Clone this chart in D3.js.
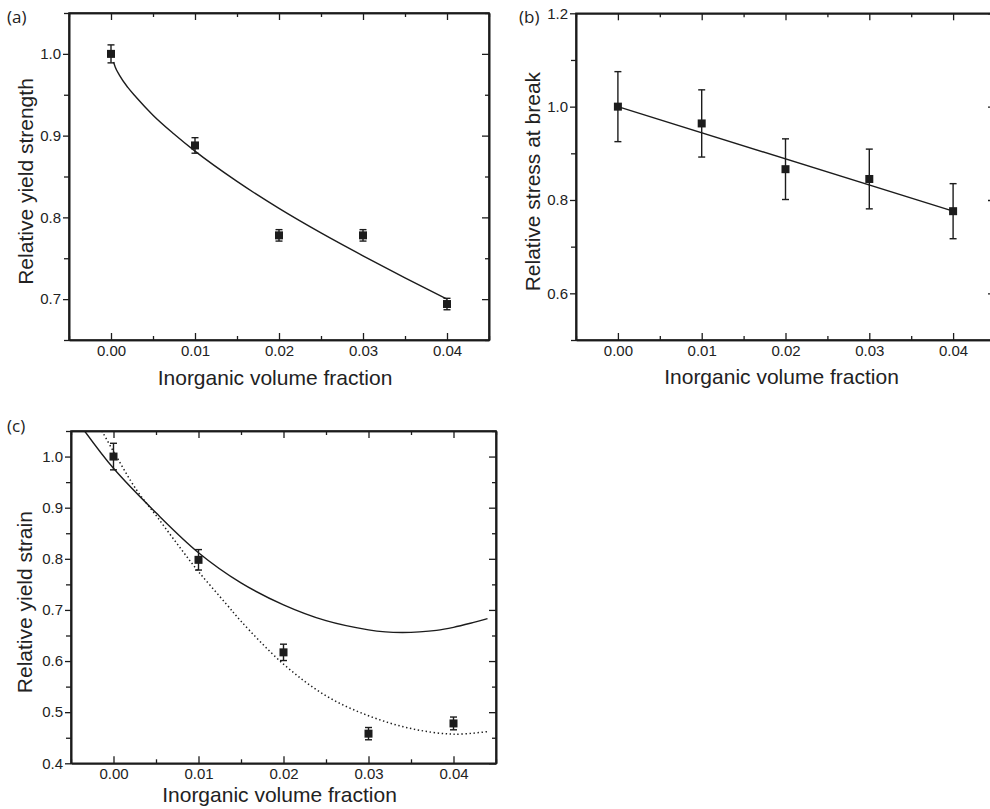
<!DOCTYPE html>
<html>
<head>
<meta charset="utf-8">
<script src="https://cdn.jsdelivr.net/npm/d3@7"></script>
<style>
  html, body { margin: 0; padding: 0; background: #ffffff; overflow: hidden; }
  svg { display: block; }
</style>
</head>
<body>
<svg id="chart" width="990" height="809"></svg>
<script>
// ---------------- DATA ----------------
const volumeFraction = [0.00, 0.01, 0.02, 0.03, 0.04];
const xTickValues = [0.00, 0.01, 0.02, 0.03, 0.04];
const xTickLabels = ["0.00", "0.01", "0.02", "0.03", "0.04"];

// (a) relative yield strength
const strengthValues = [1.000, 0.888, 0.778, 0.778, 0.694];
const strengthErrors = [0.011, 0.0095, 0.007, 0.007, 0.007];
const strengthFitX = [0.0003, 0.0005, 0.001, 0.002, 0.003, 0.005, 0.0075, 0.010, 0.015, 0.020, 0.025, 0.030, 0.035, 0.040];
const strengthFitY = [0.990, 0.984, 0.974, 0.959, 0.947, 0.925, 0.902, 0.881, 0.844, 0.811, 0.781, 0.753, 0.726, 0.700];
const strengthTicks = [0.7, 0.8, 0.9, 1.0];
const strengthTickLabels = ["0.7", "0.8", "0.9", "1.0"];

// (b) relative stress at break
const stressValues = [1.000, 0.964, 0.866, 0.845, 0.776];
const stressErrors = [0.075, 0.072, 0.065, 0.064, 0.059];
const stressFitX = [0.00, 0.04];
const stressFitY = [1.000, 0.776];
const stressTicks = [0.6, 0.8, 1.0, 1.2];
const stressTickLabels = ["0.6", "0.8", "1.0", "1.2"];

// (c) relative yield strain
const strainValues = [1.000, 0.798, 0.617, 0.458, 0.478];
const strainErrors = [0.026, 0.020, 0.016, 0.012, 0.0125];
const strainSolidX = [-0.0034, 0.000, 0.005, 0.010, 0.015, 0.020, 0.025, 0.030, 0.032, 0.034, 0.036, 0.038, 0.040, 0.042, 0.044];
const strainSolidY = [1.050, 0.977, 0.890, 0.812, 0.753, 0.710, 0.679, 0.661, 0.657, 0.656, 0.657, 0.660, 0.666, 0.674, 0.683];
const strainDottedX = [-0.00136, 0.000, 0.0027, 0.005, 0.0075, 0.010, 0.0133, 0.015, 0.020, 0.025, 0.030, 0.035, 0.040, 0.044];
const strainDottedY = [1.050, 1.010, 0.935, 0.885, 0.829, 0.775, 0.711, 0.678, 0.594, 0.532, 0.493, 0.468, 0.457, 0.462];
const strainTicks = [0.4, 0.5, 0.6, 0.7, 0.8, 0.9, 1.0];
const strainTickLabels = ["0.4", "0.5", "0.6", "0.7", "0.8", "0.9", "1.0"];

const xTitle = "Inorganic volume fraction";

// ---------------- DRAWING ----------------
const svg = d3.select("#chart");
const INK = "#1c1c1c";
const tickFont = "Liberation Sans, Arial, Helvetica, sans-serif";
const labelFont = "Open Sans, Noto Sans, sans-serif";

function zip(a, b) { return a.map((v, i) => [v, b[i]]); }

function drawPanel(cfg) {
  const g = svg.append("g");
  const x = d3.scaleLinear().domain([-0.005, 0.045]).range([cfg.left, cfg.right]);
  const y = d3.scaleLinear().domain(cfg.yDomain).range([cfg.bottom, cfg.top]);

  const clipId = "clip-" + cfg.id;
  g.append("clipPath").attr("id", clipId)
    .append("rect")
    .attr("x", cfg.left).attr("y", cfg.top)
    .attr("width", cfg.right - cfg.left).attr("height", cfg.bottom - cfg.top);

  const xMinor = d3.range(-0.005, 0.0451, 0.01).map(v => +v.toFixed(4));
  const yMinor = cfg.yMinor;

  // bottom axis: ticks inward (up)
  const bottomAxis = d3.axisBottom(x).tickValues(xTickValues)
    .tickFormat((d, i) => xTickLabels[i]).tickSizeInner(-7).tickSizeOuter(0).tickPadding(5);
  const gb = g.append("g").attr("transform", `translate(0,${cfg.bottom})`).call(bottomAxis);
  gb.append("g").call(d3.axisBottom(x).tickValues(xMinor).tickFormat("").tickSizeInner(-4).tickSizeOuter(0));

  // top axis: ticks inward (down)
  const gt = g.append("g").attr("transform", `translate(0,${cfg.top})`)
    .call(d3.axisTop(x).tickValues(xTickValues).tickFormat("").tickSizeInner(-7).tickSizeOuter(0));
  gt.append("g").call(d3.axisTop(x).tickValues(xMinor).tickFormat("").tickSizeInner(-4).tickSizeOuter(0));

  // left axis: ticks outward
  const gl = g.append("g").attr("transform", `translate(${cfg.left},0)`)
    .call(d3.axisLeft(y).tickValues(cfg.yTicks).tickFormat((d, i) => cfg.yTickLabels[i])
      .tickSizeInner(6).tickSizeOuter(0).tickPadding(2));
  gl.append("g").call(d3.axisLeft(y).tickValues(yMinor).tickFormat("").tickSizeInner(5).tickSizeOuter(0));

  // right axis: ticks inward
  const gr = g.append("g").attr("transform", `translate(${cfg.right},0)`)
    .call(d3.axisRight(y).tickValues(cfg.yTicks).tickFormat("").tickSizeInner(-7).tickSizeOuter(0));
  gr.append("g").call(d3.axisRight(y).tickValues(yMinor).tickFormat("").tickSizeInner(-4).tickSizeOuter(0));

  [gb, gt, gl, gr].forEach(a => {
    a.attr("font-family", tickFont).attr("font-size", 15);
    a.selectAll("path.domain").attr("stroke", INK).attr("stroke-width", 1.6);
    a.selectAll("line").attr("stroke", INK).attr("stroke-width", 1.3);
    a.selectAll("text").attr("fill", "#222").style("font-family", tickFont).style("font-size", "15px");
  });

  // frame
  g.append("rect")
    .attr("x", cfg.left).attr("y", cfg.top)
    .attr("width", cfg.right - cfg.left).attr("height", cfg.bottom - cfg.top)
    .attr("fill", "none").attr("stroke", INK).attr("stroke-width", 1.6);

  // fit curves
  const plot = g.append("g").attr("clip-path", `url(#${clipId})`);
  cfg.curves.forEach(c => {
    const line = d3.line().x(d => x(d[0])).y(d => y(d[1])).curve(c.curve || d3.curveCatmullRom.alpha(0.5));
    plot.append("path")
      .datum(zip(c.x, c.y))
      .attr("d", line)
      .attr("fill", "none")
      .attr("stroke", INK)
      .attr("stroke-width", c.dotted ? 1.5 : 1.4)
      .attr("stroke-dasharray", c.dotted ? "1.4,2.6" : null);
  });

  // error bars
  const pts = volumeFraction.map((v, i) => ({ x: v, y: cfg.values[i], e: cfg.errors[i] }));
  const eb = g.append("g").attr("stroke", INK).attr("stroke-width", 1.4);
  pts.forEach(p => {
    eb.append("line").attr("x1", x(p.x)).attr("x2", x(p.x)).attr("y1", y(p.y - p.e)).attr("y2", y(p.y + p.e));
    eb.append("line").attr("x1", x(p.x) - 3.5).attr("x2", x(p.x) + 3.5).attr("y1", y(p.y + p.e)).attr("y2", y(p.y + p.e));
    eb.append("line").attr("x1", x(p.x) - 3.5).attr("x2", x(p.x) + 3.5).attr("y1", y(p.y - p.e)).attr("y2", y(p.y - p.e));
  });
  // markers
  g.append("g").selectAll("rect").data(pts).join("rect")
    .attr("x", d => x(d.x) - 4).attr("y", d => y(d.y) - 4)
    .attr("width", 8).attr("height", 8)
    .attr("fill", INK);

  // axis titles
  g.append("text")
    .attr("x", (cfg.left + cfg.right) / 2 - 4).attr("y", cfg.xTitleY)
    .attr("text-anchor", "middle")
    .style("font-family", tickFont).style("font-size", "21px").attr("fill", "#222")
    .text(xTitle);
  g.append("text")
    .attr("transform", `translate(${cfg.yTitleX},${(cfg.top + cfg.bottom) / 2 + 5}) rotate(-90)`)
    .attr("text-anchor", "middle")
    .style("font-family", tickFont).style("font-size", "21px").attr("fill", "#222")
    .text(cfg.yTitle);

  // panel label
  g.append("text")
    .attr("x", cfg.labelX).attr("y", cfg.labelY)
    .style("font-family", labelFont).style("font-size", "17px").attr("fill", "#222")
    .text(cfg.label);
}

drawPanel({
  id: "a", label: "(a)", labelX: 7, labelY: 23,
  left: 69, right: 489, top: 13, bottom: 340,
  yDomain: [0.65, 1.05], yTicks: strengthTicks, yTickLabels: strengthTickLabels,
  yMinor: [0.65, 0.75, 0.85, 0.95, 1.05],
  values: strengthValues, errors: strengthErrors,
  curves: [{ x: strengthFitX, y: strengthFitY, curve: d3.curveMonotoneX }],
  yTitle: "Relative yield strength", yTitleX: 33, xTitleY: 385
});

drawPanel({
  id: "b", label: "(b)", labelX: 519, labelY: 23,
  left: 576, right: 995, top: 13.3, bottom: 340,
  yDomain: [0.5, 1.2], yTicks: stressTicks, yTickLabels: stressTickLabels,
  yMinor: [0.5, 0.7, 0.9, 1.1],
  values: stressValues, errors: stressErrors,
  curves: [{ x: stressFitX, y: stressFitY, curve: d3.curveLinear }],
  yTitle: "Relative stress at break", yTitleX: 540, xTitleY: 384
});

drawPanel({
  id: "c", label: "(c)", labelX: 7, labelY: 432,
  left: 71, right: 496, top: 431, bottom: 763.3,
  yDomain: [0.4, 1.05], yTicks: strainTicks, yTickLabels: strainTickLabels,
  yMinor: [0.45, 0.55, 0.65, 0.75, 0.85, 0.95, 1.05],
  values: strainValues, errors: strainErrors,
  curves: [
    { x: strainSolidX, y: strainSolidY },
    { x: strainDottedX, y: strainDottedY, dotted: true }
  ],
  yTitle: "Relative yield strain", yTitleX: 32, xTitleY: 802
});
</script>
</body>
</html>
